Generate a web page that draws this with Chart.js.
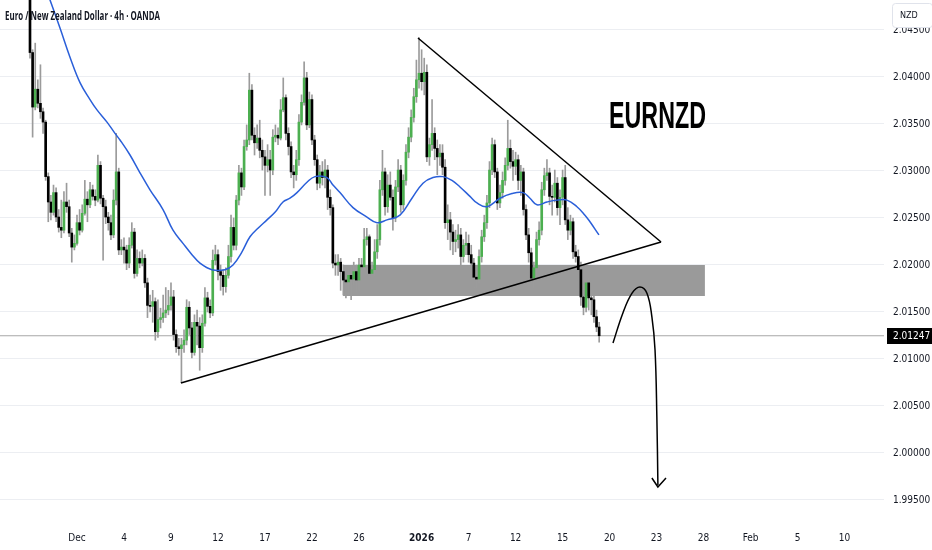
<!DOCTYPE html>
<html><head><meta charset="utf-8">
<script src="https://cdn.jsdelivr.net/npm/chart.js@4"></script>
<style>html,body{margin:0;padding:0;background:#fff;overflow:hidden}</style>
</head><body>
<canvas id="c" width="932" height="550"></canvas>
<script>
// ---- data (EUR/NZD 4h candles) ----
const chartTitle = 'Euro / New Zealand Dollar · 4h · OANDA';
const symbolLabel = 'EURNZD';
const currencyLabel = 'NZD';
const firstOpen = 2.0514;
const closes = [
2.0426,2.0368,2.0387,2.0372,2.0363,2.0352,2.0294,2.0267,2.0256,2.0277,
2.0251,2.0240,2.0237,2.0267,2.0262,2.0234,2.0219,2.0223,2.0245,2.0237,
2.0255,2.0270,2.0264,2.0280,2.0273,2.0269,2.0306,2.0271,2.0262,2.0251,
2.0245,2.0232,2.0269,2.0299,2.0216,2.0219,2.0216,2.0202,2.0221,2.0235,
2.0191,2.0207,2.0202,2.0207,2.0181,2.0157,2.0156,2.0161,2.0129,2.0142,
2.0144,2.0149,2.0152,2.0157,2.0166,2.0126,2.0113,2.0111,2.0115,2.0120,
2.0155,2.0133,2.0107,2.0139,2.0135,2.0112,2.0138,2.0165,2.0156,2.0149,
2.0205,2.0211,2.0193,2.0189,2.0177,2.0189,2.0209,2.0240,2.0221,2.0269,
2.0298,2.0283,2.0326,2.0333,2.0386,2.0338,2.0330,2.0335,2.0322,2.0315,
2.0306,2.0312,2.0301,2.0336,2.0338,2.0335,2.0365,2.0378,2.0340,2.0326,
2.0299,2.0296,2.0312,2.0352,2.0373,2.0399,2.0349,2.0376,2.0333,2.0312,
2.0287,2.0299,2.0293,2.0301,2.0272,2.0261,2.0202,2.0200,2.0203,2.0193,
2.0184,2.0182,2.0189,2.0185,2.0193,2.0184,2.0200,2.0198,2.0227,2.0230,
2.0191,2.0195,2.0214,2.0227,2.0280,2.0299,2.0262,2.0285,2.0272,2.0250,
2.0283,2.0301,2.0264,2.0290,2.0320,2.0336,2.0357,2.0379,2.0397,2.0404,
2.0395,2.0405,2.0315,2.0328,2.0340,2.0324,2.0315,2.0319,2.0304,2.0245,
2.0248,2.0235,2.0225,2.0227,2.0232,2.0209,2.0221,2.0223,2.0211,2.0202,
2.0187,2.0185,2.0209,2.0230,2.0245,2.0266,2.0301,2.0328,2.0299,2.0266,
2.0277,2.0290,2.0306,2.0324,2.0310,2.0305,2.0312,2.0290,2.0299,2.0259,
2.0232,2.0213,2.0186,2.0197,2.0227,2.0237,2.0280,2.0295,2.0298,2.0273,
2.0272,2.0287,2.0261,2.0272,2.0293,2.0248,2.0237,2.0246,2.0214,2.0209,
2.0195,2.0166,2.0155,2.0181,2.0165,2.0163,2.0145,2.0134,2.01247];
const highs = [
2.0525,2.0429,2.0436,2.0397,2.0413,2.0367,2.0354,2.0298,2.0274,2.0285,
2.0282,2.0259,2.0269,2.0278,2.0287,2.0269,2.0239,2.0232,2.0253,2.0259,
2.0264,2.0290,2.0278,2.0288,2.0285,2.0280,2.0317,2.0310,2.0274,2.0269,
2.0256,2.0253,2.0280,2.0340,2.0303,2.0227,2.0229,2.0221,2.0229,2.0245,
2.0239,2.0216,2.0214,2.0216,2.0211,2.0186,2.0168,2.0173,2.0165,2.0163,
2.0154,2.0168,2.0176,2.0173,2.0181,2.0173,2.0131,2.0122,2.0122,2.0131,
2.0163,2.0161,2.0139,2.0147,2.0152,2.0144,2.0147,2.0176,2.0171,2.0163,
2.0216,2.0221,2.0216,2.0200,2.0195,2.0197,2.0221,2.0253,2.0250,2.0274,
2.0306,2.0303,2.0333,2.0349,2.0404,2.0392,2.0346,2.0349,2.0354,2.0333,
2.0322,2.0328,2.0322,2.0344,2.0349,2.0346,2.0376,2.0399,2.0381,2.0346,
2.0331,2.0306,2.0322,2.0360,2.0381,2.0416,2.0405,2.0384,2.0381,2.0338,
2.0317,2.0306,2.0310,2.0312,2.0306,2.0280,2.0264,2.0211,2.0211,2.0207,
2.0200,2.0193,2.0197,2.0197,2.0203,2.0200,2.0207,2.0207,2.0239,2.0239,
2.0232,2.0203,2.0227,2.0243,2.0290,2.0322,2.0303,2.0296,2.0299,2.0280,
2.0290,2.0312,2.0306,2.0296,2.0328,2.0346,2.0365,2.0388,2.0418,2.0442,
2.0429,2.0420,2.0413,2.0335,2.0376,2.0346,2.0333,2.0328,2.0328,2.0312,
2.0264,2.0256,2.0243,2.0237,2.0243,2.0239,2.0227,2.0235,2.0232,2.0221,
2.0207,2.0195,2.0216,2.0237,2.0253,2.0274,2.0310,2.0335,2.0333,2.0303,
2.0285,2.0299,2.0314,2.0354,2.0333,2.0322,2.0320,2.0317,2.0306,2.0303,
2.0264,2.0239,2.0218,2.0203,2.0235,2.0246,2.0288,2.0303,2.0312,2.0303,
2.0285,2.0301,2.0293,2.0280,2.0301,2.0306,2.0261,2.0253,2.0250,2.0221,
2.0216,2.0203,2.0179,2.0189,2.0186,2.0173,2.0168,2.0152,2.0139];
const lows = [
2.0420,2.0336,2.0365,2.0367,2.0356,2.0340,2.0290,2.0246,2.0248,2.0253,
2.0246,2.0235,2.0229,2.0234,2.0256,2.0230,2.0203,2.0216,2.0221,2.0232,
2.0235,2.0253,2.0246,2.0261,2.0269,2.0263,2.0267,2.0265,2.0205,2.0244,
2.0237,2.0227,2.0229,2.0264,2.0211,2.0211,2.0202,2.0195,2.0197,2.0218,
2.0186,2.0188,2.0197,2.0199,2.0176,2.0144,2.0150,2.0139,2.0120,2.0123,
2.0133,2.0139,2.0144,2.0147,2.0152,2.0120,2.0107,2.0104,2.0075,2.0107,
2.0115,2.0126,2.0101,2.0104,2.0115,2.0088,2.0107,2.0135,2.0150,2.0144,
2.0146,2.0200,2.0184,2.0173,2.0168,2.0171,2.0186,2.0203,2.0216,2.0216,
2.0264,2.0274,2.0280,2.0322,2.0328,2.0333,2.0317,2.0324,2.0314,2.0301,
2.0274,2.0299,2.0274,2.0296,2.0331,2.0328,2.0333,2.0363,2.0333,2.0317,
2.0293,2.0282,2.0290,2.0306,2.0349,2.0370,2.0344,2.0346,2.0328,2.0306,
2.0280,2.0282,2.0285,2.0282,2.0259,2.0253,2.0197,2.0189,2.0189,2.0173,
2.0168,2.0165,2.0168,2.0163,2.0179,2.0171,2.0173,2.0193,2.0195,2.0221,
2.0186,2.0186,2.0189,2.0207,2.0221,2.0274,2.0253,2.0256,2.0269,2.0237,
2.0246,2.0278,2.0256,2.0259,2.0285,2.0314,2.0331,2.0352,2.0373,2.0388,
2.0386,2.0381,2.0310,2.0306,2.0322,2.0312,2.0296,2.0306,2.0296,2.0239,
2.0227,2.0216,2.0211,2.0214,2.0218,2.0200,2.0203,2.0211,2.0203,2.0189,
2.0176,2.0176,2.0181,2.0203,2.0225,2.0239,2.0261,2.0296,2.0293,2.0259,
2.0261,2.0271,2.0285,2.0301,2.0303,2.0290,2.0296,2.0280,2.0274,2.0253,
2.0227,2.0203,2.0182,2.0176,2.0189,2.0221,2.0232,2.0274,2.0290,2.0264,
2.0253,2.0267,2.0253,2.0243,2.0264,2.0243,2.0227,2.0232,2.0207,2.0203,
2.0184,2.0157,2.0147,2.0150,2.0152,2.0147,2.0139,2.0129,2.0118];

// moving average (blue) read at candle positions
const maX = [0,7.66,11.49,15.32,19.15,22.98,25.66,29.49,32.55,34.47,38.30,42.13,45.96,50.94,54.77,58.60,62.04,65.11,69.70,74.68,77.75,81.19,84.26,87.32,90.77,93.83,96.90,99.58,102.26,106.09,109.15,113.75,116.05,118.73,123.71,129.07,132.90,136.73,141.71,146.30,150.52,154.35,158.18,161.62,164.69,168.52,171.20,175.03,180.01,184.60,188.82,191.50,194.18,198.01,201.84,205.67,209.50,212.56,214.48,217.92];
const maY = [2.0540,2.0482,2.0452,2.0421,2.0394,2.0376,2.0365,2.0352,2.0340,2.0333,2.0317,2.0298,2.0280,2.0259,2.0237,2.0223,2.0211,2.0202,2.0195,2.0195,2.0200,2.0214,2.0230,2.0239,2.0248,2.0256,2.0267,2.0271,2.0277,2.0288,2.0294,2.0293,2.0285,2.0277,2.0261,2.0251,2.0245,2.0248,2.0253,2.0271,2.0287,2.0293,2.0294,2.0290,2.0283,2.0273,2.0266,2.0262,2.0271,2.0276,2.0277,2.0271,2.0264,2.0267,2.0269,2.0269,2.0262,2.0253,2.0246,2.0232];

// time axis (candle index of each date label)
const dateTickIdx = [18,36,54,72,90,108,126,150,168,186,204,222,240,258,276,294,312];
const dateTickLabels = ['Dec','4','9','12','17','22','26','2026','7','12','15','20','23','28','Feb','5','10'];
const priceTicks = [1.995,2.000,2.005,2.010,2.015,2.020,2.025,2.030,2.035,2.040,2.045];
const xMin = -11.49, xMax = 327.1, yMin = 1.99287, yMax = 2.04819;

// drawings
const upperLineX = [148.6, 241.7], upperLineY = [2.04415, 2.02245];
const lowerLineX = [57.8, 241.7],  lowerLineY = [2.00745, 2.02245];
const zoneX = [119.9, 258.5], zoneTop = 2.0200, zoneBottom = 2.0167;
const arrowX = [223.3,227.1,230.6,233.6,236.3,238.2,239.4,240.1,240.5];
const arrowY = [2.0117,2.0149,2.0170,2.01766,2.0170,2.01447,2.01096,2.00383,1.99660];
const headX = [238.2,240.5,243.6], headY = [1.99734,1.99638,1.99734];
const lastPrice = closes[closes.length-1];

// ---- build ----
const opens = closes.map((c,i)=> i===0 ? firstOpen : closes[i-1]);
const GREEN='#4caf50', BLACK='#000000', WICK='#9b9b9b';
const pts = (xs,ys)=>xs.map((x,i)=>({x:x,y:ys[i]}));
const TICKFONT = "'Liberation Sans Narrow','DejaVu Sans Condensed','Roboto Condensed','Liberation Sans',sans-serif";

function lineDS(data, color, width, order, extra){
  return Object.assign({type:'line', data:data, borderColor:color, borderWidth:width, pointRadius:0, fill:false, tension:0, order:order}, extra||{});
}

const datasets = [
  lineDS(pts(zoneX,[zoneTop,zoneTop]), 'rgba(0,0,0,0)', 0, 20, {fill:{value:zoneBottom}, backgroundColor:'#9a9a9a'}),
  lineDS([{x:xMin,y:lastPrice},{x:xMax,y:lastPrice}], 'rgba(0,0,0,0.35)', 1, 15),
  {type:'bar', data: closes.map((c,i)=>({x:i, y:[lows[i], highs[i]]})), backgroundColor:WICK, barThickness:1, grouped:false, order:10, borderWidth:0},
  {type:'bar', data: closes.map((c,i)=>({x:i, y:[opens[i], c]})), backgroundColor: closes.map((c,i)=> c>=opens[i]?GREEN:BLACK), barThickness:2, minBarLength:1, grouped:false, order:9, borderWidth:0},
  lineDS(pts(maX,maY), '#2a5fd9', 1.5, 5, {tension:0.4}),
  lineDS(pts(upperLineX,upperLineY), '#000', 1.5, 4),
  lineDS(pts(lowerLineX,lowerLineY), '#000', 1.5, 4),
  lineDS(pts(arrowX,arrowY), '#000', 1.5, 3, {tension:0.4}),
  lineDS(pts(headX,headY), '#000', 1.5, 3)
];

function fitText(ctx, txt, x, y, w, font, color){
  ctx.save(); ctx.font = font; const m = ctx.measureText(txt).width;
  ctx.translate(x,y); ctx.scale(w/m,1); ctx.fillStyle=color; ctx.textBaseline='alphabetic'; ctx.textAlign='left';
  ctx.fillText(txt,0,0); ctx.restore();
}

const overlay = {
  id:'overlay',
  afterDraw(chart){
    const ctx = chart.ctx, ys = chart.scales.y;
    ctx.save();
    // last price label
    const py = Math.round(ys.getPixelForValue(lastPrice));
    ctx.fillStyle='#000'; ctx.fillRect(887, py-8, 45, 16);
    ctx.fillStyle='#fff'; ctx.font = "10px "+TICKFONT; ctx.textBaseline='middle'; ctx.textAlign='left';
    ctx.fillText(lastPrice.toFixed(5), 893, py+0.5);
    // currency box
    ctx.fillStyle='#fff'; ctx.strokeStyle='#e0e3eb'; ctx.lineWidth=1;
    ctx.beginPath(); ctx.roundRect(892.5, 3.5, 40, 24, 3); ctx.fill(); ctx.stroke();
    ctx.fillStyle='#131722'; ctx.font = "9px "+TICKFONT; ctx.textAlign='left'; ctx.textBaseline='middle';
    ctx.fillText(currencyLabel, 900, 16);
    ctx.restore();
    fitText(ctx, chartTitle, 5, 19.5, 155, "700 11.5px 'Open Sans'", '#131722');
    fitText(ctx, symbolLabel, 609, 128, 97, "bold 36px 'Liberation Sans'", '#000');
  }
};

new Chart(document.getElementById('c'), {
  type:'bar',
  data:{datasets:datasets},
  plugins:[overlay],
  options:{
    responsive:false, animation:false, devicePixelRatio:1,
    layout:{padding:0},
    plugins:{legend:{display:false}, tooltip:{enabled:false}},
    scales:{
      x:{type:'linear', min:xMin, max:xMax, offset:false,
         grid:{display:false, offset:false}, border:{display:false},
         afterBuildTicks:(s)=>{ s.ticks = dateTickIdx.map(v=>({value:v})); },
         afterFit:(s)=>{ s.height=30; s.paddingLeft=0; s.paddingRight=0; },
         ticks:{autoSkip:false, maxRotation:0, padding:4, color:'#131722',
           font:(c)=>({family:TICKFONT, size:10, weight: (c.tick && c.index===7) ? 'bold':'normal'}),
           callback:(v,i)=>dateTickLabels[i]}
      },
      y:{type:'linear', position:'right', min:yMin, max:yMax,
         grid:{color:'#eceef2', drawTicks:false, lineWidth:1}, border:{display:false},
         afterBuildTicks:(s)=>{ s.ticks = priceTicks.map(v=>({value:v})); },
         afterFit:(s)=>{ s.width=48; s.paddingTop=0; s.paddingBottom=0; },
         ticks:{autoSkip:false, padding:9, color:'#131722', font:{family:TICKFONT, size:10},
           callback:(v)=>Number(v).toFixed(5)}
      }
    }
  }
});
</script>
</body></html>
